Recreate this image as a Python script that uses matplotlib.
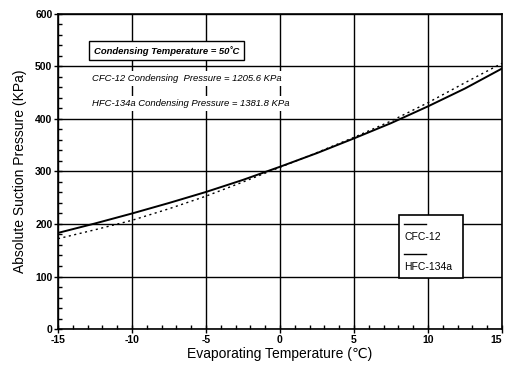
import matplotlib.pyplot as plt
from matplotlib.patches import Rectangle
from matplotlib.ticker import MultipleLocator

plt.rcParams["font.family"] = ["Liberation Sans", "DejaVu Sans"]
plt.rcParams["axes.unicode_minus"] = False

evap_temp = [-15, -12.5, -10, -7.5, -5, -2.5, 0, 2.5, 5, 7.5, 10, 12.5, 15]
cfc12_pressure = [183, 201, 220, 240, 261, 284, 309, 335, 363, 392, 424, 458, 496]
hfc134a_pressure = [172, 189, 207, 229, 253, 280, 308, 336, 365, 396, 431, 469, 506]

x_ticks = [-15, -10, -5, 0, 5, 10, 15]
x_tick_labels = ["-15", "-10", "-5", "0", "5", "10", "15"]
legend_labels = ["CFC-12", "HFC-134a"]
note_title = "Condensing Temperature = 50\u02daC"
note_lines = [
    "CFC-12 Condensing  Pressure = 1205.6 KPa",
    "HFC-134a Condensing Pressure = 1381.8 KPa",
]

fig = plt.figure(figsize=(5.06, 3.67), dpi=100)
ax = fig.add_axes([0.1146, 0.1035, 0.8774, 0.8585])

ax.plot(evap_temp, cfc12_pressure, color="black", lw=1.4, zorder=2)
ax.plot(evap_temp, hfc134a_pressure, color="black", lw=1.0, ls=(0, (1.5, 2.5)), zorder=2)

ax.set_xlim(-15, 15)
ax.set_ylim(0, 600)
ax.set_xticks(x_ticks, x_tick_labels)
ax.xaxis.set_minor_locator(MultipleLocator(1))
ax.yaxis.set_major_locator(MultipleLocator(100))
ax.yaxis.set_minor_locator(MultipleLocator(20))
ax.grid(True, which="major", color="black", lw=1.0)
ax.tick_params(which="major", direction="inout", length=6, width=1, labelsize=7.5, pad=1)
ax.tick_params(which="minor", direction="in", length=3, width=1)
for lbl in ax.get_xticklabels() + ax.get_yticklabels():
    lbl.set_fontweight("bold")
# keep the last x label inside the figure edge
ax.xaxis.get_major_ticks()[-1].label1.set_horizontalalignment("right")
for spine in ax.spines.values():
    spine.set_linewidth(1.2)

ax.set_xlabel("Evaporating Temperature (\u2103)", fontsize=10, labelpad=2)
ax.set_ylabel("Absolute Suction Pressure (KPa)", fontsize=10, labelpad=6)

# condensing-condition notes
ax.text(-12.6, 530, note_title, fontsize=6.8, fontweight="bold", style="italic",
        va="center", ha="left", zorder=4,
        bbox=dict(boxstyle="square,pad=0.5", fc="white", ec="black", lw=1))
ax.text(-12.7, 477, note_lines[0], fontsize=6.8, style="italic", va="center", ha="left",
        zorder=4, bbox=dict(boxstyle="square,pad=0.3", fc="white", ec="none"))
ax.text(-12.7, 429, note_lines[1], fontsize=6.8, style="italic", va="center", ha="left",
        zorder=4, bbox=dict(boxstyle="square,pad=0.3", fc="white", ec="none"))

# hand-drawn style legend box
ax.add_patch(Rectangle((0.767, 0.162), 0.145, 0.2, transform=ax.transAxes,
                       fc="white", ec="black", lw=1.2, zorder=5))
for i, label in enumerate(legend_labels):
    y_line = 0.332 - i * 0.095
    ax.plot([0.78, 0.83], [y_line, y_line], transform=ax.transAxes,
            color="black", lw=1.0, zorder=6)
    ax.text(0.78, y_line - 0.04, label, transform=ax.transAxes, fontsize=7.5,
            va="center", ha="left", zorder=6)

fig.savefig("out.png", dpi=100)
